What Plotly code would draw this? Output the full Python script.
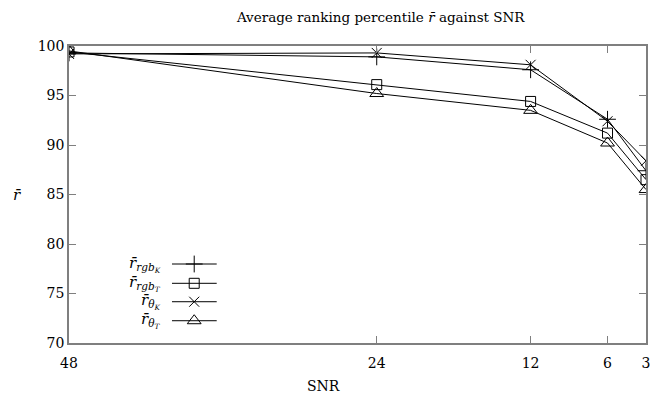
import plotly.graph_objects as go

# ---- data ----
snr = [48, 24, 12, 6, 3]
r_rgb_K = [99.3, 98.9, 97.6, 92.6, 87.4]
r_rgb_T = [99.4, 96.1, 94.4, 91.2, 86.5]
r_theta_K = [99.2, 99.3, 98.1, 92.4, 88.4]
r_theta_T = [99.5, 95.2, 93.5, 90.2, 85.5]
x_ticks = [48, 24, 12, 6, 3]
y_ticks = [70, 75, 80, 85, 90, 95, 100]

series = [
    ("<i>r̄</i><sub><i>rgb</i><sub><i>K</i></sub></sub>", r_rgb_K, "cross-thin-open", 12),
    ("<i>r̄</i><sub><i>rgb</i><sub><i>T</i></sub></sub>", r_rgb_T, "square-open", 10),
    ("<i>r̄</i><sub><i>θ</i><sub><i>K</i></sub></sub>", r_theta_K, "x-thin-open", 10),
    ("<i>r̄</i><sub><i>θ</i><sub><i>T</i></sub></sub>", r_theta_T, "triangle-up-open", 12),
]

FONT = "DejaVu Serif"
W, H = 653, 401
ML, MR, MT, MB = 69, 3, 46, 58
BORDER = "#7f7f7f"

fig = go.Figure()
for name, vals, sym, sz in series:
    fig.add_trace(go.Scatter(
        x=snr, y=vals, mode="lines+markers", name=name, showlegend=False,
        line=dict(color="black", width=1),
        marker=dict(symbol=sym, size=sz, color="black", line=dict(width=1, color="black")),
    ))

# custom gnuplot-style legend on an overlay axis (0..1 in plot area)
leg_rows = [0.266, 0.201, 0.139, 0.075]
leg_x0, leg_x1, leg_xm, leg_tx = 0.1785, 0.256, 0.217, 0.163
for (name, vals, sym, sz), ry in zip(series, leg_rows):
    fig.add_trace(go.Scatter(
        x=[leg_x0, leg_x1], y=[ry, ry], mode="lines", xaxis="x2", yaxis="y2",
        line=dict(color="black", width=1), showlegend=False, hoverinfo="skip"))
    fig.add_trace(go.Scatter(
        x=[leg_xm], y=[ry], mode="markers", xaxis="x2", yaxis="y2",
        marker=dict(symbol=sym, size=sz, color="black", line=dict(width=1, color="black")),
        showlegend=False, hoverinfo="skip"))
    fig.add_annotation(x=leg_tx, y=ry, xref="x2", yref="y2", text=name,
                       showarrow=False, xanchor="right", yanchor="middle",
                       font=dict(family=FONT, size=15, color="black"))

fig.update_layout(
    width=W, height=H,
    margin=dict(l=ML, r=MR, t=MT, b=MB),
    paper_bgcolor="white", plot_bgcolor="white",
    font=dict(family=FONT, size=14, color="black"),
    title=dict(text="Average ranking percentile <i>r̄</i> against SNR", x=0.583, xanchor="center",
               y=0.958, yanchor="middle", font=dict(family=FONT, size=13.5, color="black")),
    xaxis=dict(range=[48, 3], tickvals=x_ticks, ticktext=[str(v) for v in x_ticks],
               ticks="inside", ticklen=7, tickcolor=BORDER, tickwidth=1,
               showline=True, linecolor=BORDER, linewidth=1.5, mirror="ticks",
               showgrid=False, zeroline=False, tickfont=dict(family=FONT, size=14, color="black"),
               ticklabelstandoff=6),
    yaxis=dict(range=[70, 100], tickvals=y_ticks,
               ticks="inside", ticklen=7, tickcolor=BORDER, tickwidth=1,
               showline=True, linecolor=BORDER, linewidth=1.5, mirror="ticks",
               showgrid=False, zeroline=False, tickfont=dict(family=FONT, size=14, color="black")),
    xaxis2=dict(range=[0, 1], overlaying="x", visible=False, fixedrange=True),
    yaxis2=dict(range=[0, 1], overlaying="y", visible=False, fixedrange=True),
    showlegend=False,
)
fig.add_annotation(x=(325 - ML) / (W - ML - MR), y=-0.145, xref="paper", yref="paper",
                   text="SNR", showarrow=False, yanchor="middle",
                   font=dict(family=FONT, size=14, color="black"))
fig.add_annotation(x=-0.1, y=0.5, xref="paper", yref="paper",
                   text="<i>r̄</i>", showarrow=False, yanchor="middle",
                   font=dict(family=FONT, size=15, color="black"))

fig.write_html("out.html")
